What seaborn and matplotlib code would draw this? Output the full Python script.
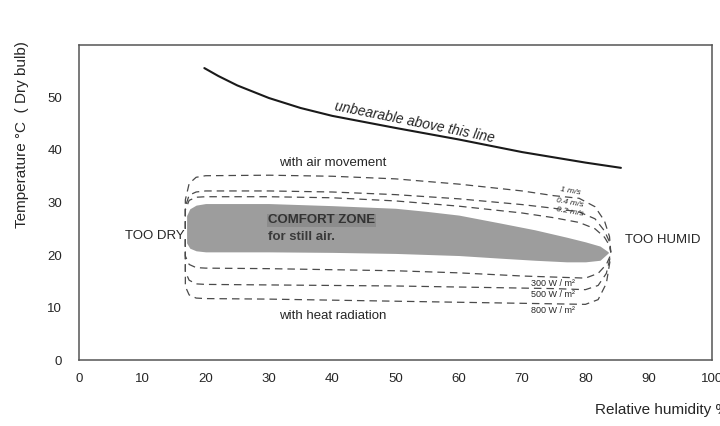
import pandas as pd
import matplotlib.pyplot as plt
import seaborn as sns

# Datos (humedad relativa %, temperatura C)
rh_unbearable = [19.8, 22, 25, 30, 35, 40, 50, 60, 70, 80, 85.6]
t_unbearable = [55.6, 54.1, 52.3, 49.9, 48.0, 46.5, 44.2, 42.0, 39.6, 37.6, 36.6]

rh_comfort = [17.0, 17.5, 18.5, 20, 30, 40, 50, 55, 60, 66.5, 72, 77, 80, 82.3, 83.6]
t_comfort_top = [27.5, 28.8, 29.5, 29.8, 29.8, 29.4, 28.9, 28.3, 27.6, 26.1, 24.8, 23.4, 22.5, 21.7, 20.6]
t_comfort_bottom = [22.3, 21.3, 20.8, 20.6, 20.6, 20.5, 20.3, 20.1, 19.9, 19.4, 19.0, 18.7, 18.7, 19.0, 20.4]

# velocidad del aire (curvas superiores)
rh_air = [16.8, 16.8, 17.4, 18.5, 20, 30, 40, 50, 60, 70, 75, 79, 81.5, 83.0, 83.8, 84.0]
t_air_1 = [25, 30.5, 33.6, 34.8, 35.1, 35.2, 35.0, 34.5, 33.5, 32.2, 31.3, 30.8, 29.2, 26.5, 23.5, 20.5]
t_air_04 = [25, 29.2, 31.4, 32.0, 32.2, 32.2, 32.0, 31.5, 30.7, 29.6, 28.9, 28.2, 26.9, 24.6, 22.5, 20.5]
t_air_02 = [25, 28.6, 30.4, 31.0, 31.1, 31.1, 30.9, 30.3, 29.3, 28.0, 27.1, 26.2, 25.0, 23.4, 21.8, 20.5]
air_labels = ['1 m/s', '0.4 m/s', '0.2 m/s']

# radiacion (curvas inferiores)
rh_rad = [16.8, 16.8, 17.4, 18.5, 20, 30, 40, 50, 60, 70, 75, 80, 82.0, 83.3, 83.9]
t_rad_300 = [23, 19.8, 18.2, 17.6, 17.5, 17.4, 17.2, 17.0, 16.6, 16.0, 15.8, 15.6, 16.5, 18.2, 19.8]
t_rad_500 = [23, 16.8, 15.2, 14.5, 14.4, 14.3, 14.2, 14.1, 13.9, 13.7, 13.6, 13.4, 14.2, 16.5, 19.5]
t_rad_800 = [23, 14.0, 12.4, 11.8, 11.7, 11.6, 11.4, 11.2, 11.0, 10.8, 10.7, 10.6, 11.5, 14.6, 19.0]
rad_labels = ['300 W / m\u00b2', '500 W / m\u00b2', '800 W / m\u00b2']

x_ticks = [0, 10, 20, 30, 40, 50, 60, 70, 80, 90, 100]
y_ticks = [0, 10, 20, 30, 40, 50]

sns.set_style("white")
plt.rcParams['font.family'] = ['Liberation Sans', 'DejaVu Sans']
texto = '#262626'
dash = (0, (6, 4))

fig = plt.figure(figsize=(7.2, 4.26), dpi=100)
ax = fig.add_axes([0.1097, 0.1549, 0.8793, 0.7395])

# zona de confort
ax.fill_between(rh_comfort, t_comfort_bottom, t_comfort_top, color='#9d9d9d', lw=0)

# linea de insoportable
df_unb = pd.DataFrame({'rh': rh_unbearable, 't': t_unbearable})
sns.lineplot(data=df_unb, x='rh', y='t', sort=False, estimator=None, ax=ax,
             color='#1a1a1a', lw=1.5)

for serie in [t_air_1, t_air_04, t_air_02]:
    df = pd.DataFrame({'rh': rh_air, 't': serie})
    sns.lineplot(data=df, x='rh', y='t', sort=False, estimator=None, ax=ax,
                 color='#4a4a4a', lw=0.9, linestyle=dash)

for serie in [t_rad_300, t_rad_500, t_rad_800]:
    df = pd.DataFrame({'rh': rh_rad, 't': serie})
    sns.lineplot(data=df, x='rh', y='t', sort=False, estimator=None, ax=ax,
                 color='#4a4a4a', lw=0.9, linestyle=dash)

# etiquetas de las curvas
for lab, serie in zip(air_labels, [t_air_1, t_air_04, t_air_02]):
    ax.text(77.6, serie[10] - 0.1, lab, fontsize=6, style='italic', color=texto,
            ha='center', va='bottom', rotation=-10)
for lab, serie in zip(rad_labels, [t_rad_300, t_rad_500, t_rad_800]):
    ax.text(74.8, serie[10] - 1.2, lab, fontsize=6.5, color=texto,
            ha='center', va='center')

ax.text(53, 45.2, 'unbearable above this line', fontsize=10, style='italic',
        color=texto, ha='center', va='center', rotation=-11.5)
ax.text(40, 37.6, 'with air movement', fontsize=9.5, color=texto, ha='center', va='center')
ax.text(40, 8.3, 'with heat radiation', fontsize=9.5, color=texto, ha='center', va='center')
ax.text(29.8, 26.6, 'COMFORT ZONE', fontsize=9.5, fontweight='bold', color='#333333',
        ha='left', va='center',
        bbox=dict(facecolor='#8c8c8c', edgecolor='none', pad=0.6))
ax.text(29.8, 23.4, 'for still air.', fontsize=9.5, fontweight='bold', color='#3a3a3a',
        ha='left', va='center')
ax.text(12, 23.6, 'TOO DRY', fontsize=9.5, color=texto, ha='center', va='center')
ax.text(86.2, 22.8, 'TOO HUMID', fontsize=9.5, color=texto, ha='left', va='center')

ax.set_xlim(0, 100)
ax.set_ylim(0, 60)
ax.set_xticks(x_ticks)
ax.set_yticks(y_ticks)
ax.set_xticklabels([str(v) for v in x_ticks])
ax.set_yticklabels([str(v) for v in y_ticks])
ax.tick_params(axis='both', direction='out', length=7, width=1, color='#555555',
               labelsize=9.5, labelcolor=texto, pad=4)
ax.tick_params(axis='x', length=6, pad=3)
ax.tick_params(axis='y', pad=5)
ax.xaxis.get_major_ticks()[0].tick1line.set_visible(False)
ax.yaxis.get_major_ticks()[0].tick1line.set_visible(False)
ax.set_xlabel('')
ax.set_ylabel('')
for s in ax.spines.values():
    s.set_color('#555555')
    s.set_linewidth(1.1)

fig.text(0.031, 0.683, 'Temperature \u00b0C  ( Dry bulb)', rotation=90, fontsize=11,
         color=texto, ha='center', va='center')
fig.text(0.826, 0.037, 'Relative humidity %', fontsize=11, color=texto,
         ha='left', va='center')

fig.savefig('out.png', dpi=100, facecolor='white')
